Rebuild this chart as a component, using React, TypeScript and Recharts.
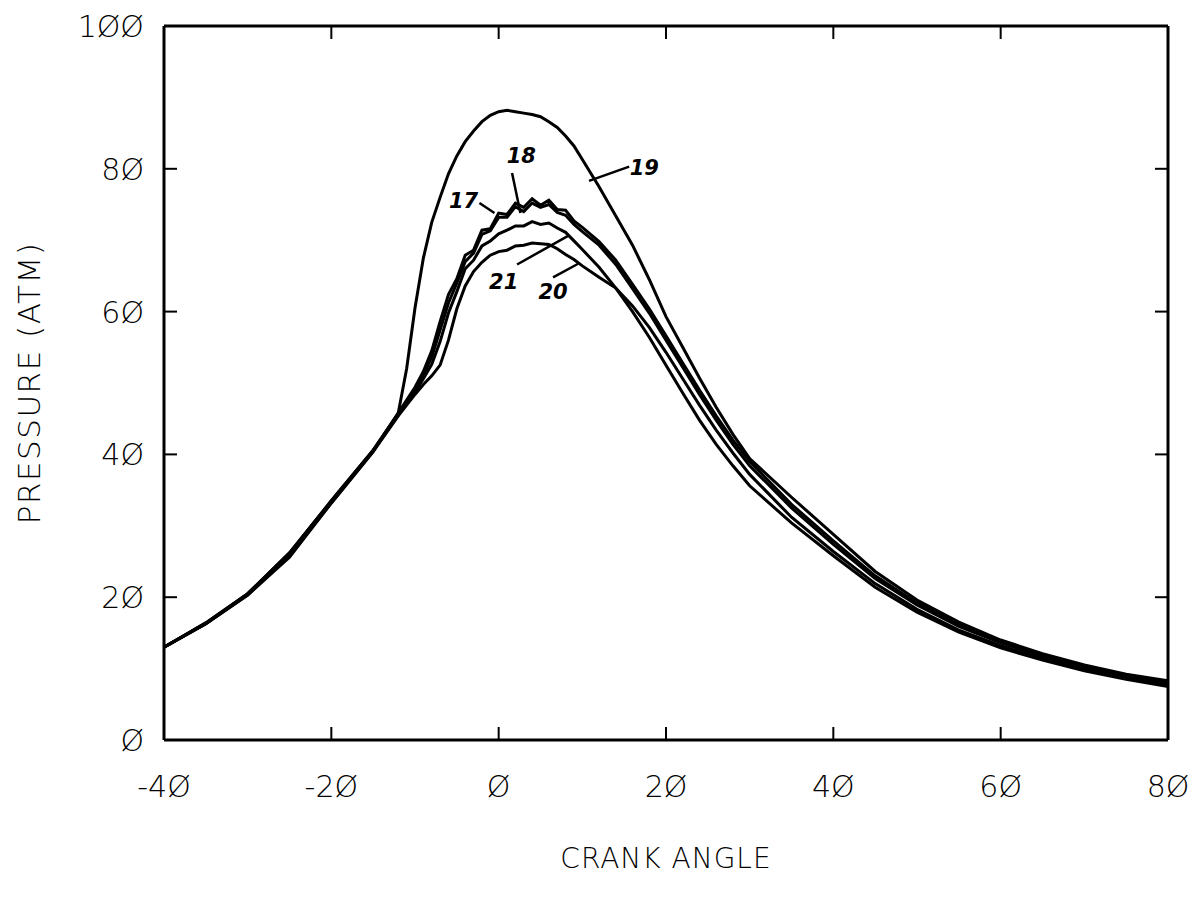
import React from 'react';
import { LineChart, Line, XAxis, YAxis, ReferenceLine, ReferenceDot } from 'recharts';

// crank angle (deg) and cylinder pressure (atm) for runs 17-21
const crankAngle = [-40, -35, -30, -25, -20, -15, -12, -11, -10, -9, -8, -7, -6, -5, -4, -3, -2, -1, 0, 1, 2, 3, 4, 5, 6, 7, 8, 9, 10, 12, 14, 16, 18, 20, 22, 24, 26, 28, 30, 35, 40, 45, 50, 55, 60, 65, 70, 75, 80];

const p17 = [13.0, 16.4, 20.5, 26.2, 33.5, 40.6,
  45.8, 47.6, 49.4, 51.6, 54.5, 58.6, 62.4, 64.6, 67.9, 68.6, 71.4, 71.6, 73.8, 73.6, 75.2, 74.6, 75.8, 74.9, 75.6, 74.3, 74.2, 72.7, 71.8,
  69.8, 67.2, 63.8, 60.4, 56.6, 52.8, 49.0, 45.4, 42.0, 39.0,
  33.0, 27.9, 23.0, 19.2, 16.2, 13.8, 11.9, 10.3, 9.1, 8.1];

const p18 = [13.0, 16.4, 20.5, 26.2, 33.5, 40.6,
  45.6, 47.3, 49.0, 51.1, 53.6, 57.4, 61.2, 64.0, 67.0, 68.2, 70.8, 71.3, 73.2, 73.2, 74.7, 74.0, 75.2, 74.6, 75.0, 73.9, 73.5, 72.2, 71.2,
  69.3, 66.6, 63.2, 59.8, 56.0, 52.2, 48.4, 44.8, 41.4, 38.4,
  32.5, 27.4, 22.6, 18.9, 15.9, 13.6, 11.7, 10.2, 9.0, 8.0];

const p19 = [13.0, 16.3, 20.3, 25.6, 33.2, 40.4,
  45.8, 52.0, 60.5, 67.5, 72.5, 76.0, 79.3, 81.8, 83.8, 85.3, 86.6, 87.5, 88.0, 88.2, 88.0, 87.8, 87.6, 87.3, 86.6, 85.8, 84.6, 83.2, 81.3,
  77.5, 73.4, 69.3, 64.5, 59.3, 55.0, 50.7, 46.6, 42.8, 39.4,
  34.0, 28.8, 23.6, 19.6, 16.5, 14.0, 12.1, 10.5, 9.2, 8.3];

const p20 = [13.0, 16.3, 20.3, 25.8, 33.2, 40.4,
  45.4, 46.9, 48.4, 49.8, 51.0, 52.5, 56.0, 60.4, 63.6, 65.6, 66.9, 67.9, 68.4, 68.6, 69.2, 69.3, 69.6, 69.5, 69.4, 68.8, 68.0, 67.3, 66.4,
  64.8, 63.3, 60.8, 57.8, 54.3, 50.6, 46.9, 43.4, 40.2, 37.2,
  31.2, 26.4, 21.9, 18.3, 15.4, 13.2, 11.4, 9.9, 8.7, 7.7];

const p21 = [13.0, 16.3, 20.4, 26.0, 33.3, 40.5,
  45.5, 47.1, 48.7, 50.6, 52.6, 55.8, 59.8, 62.8, 66.0, 67.2, 69.2, 69.9, 70.9, 71.4, 72.0, 72.0, 72.6, 72.2, 72.4, 71.7, 71.1, 69.9, 68.7,
  66.2, 63.3, 60.0, 56.4, 52.5, 48.6, 44.8, 41.4, 38.4, 35.6,
  30.4, 25.8, 21.4, 17.9, 15.1, 12.9, 11.2, 9.7, 8.5, 7.5];

const xTicks = [-40, -20, 0, 20, 40, 60, 80];
const yTicks = [0, 20, 40, 60, 80, 100];

// run numbers written next to the curves, with their leader lines
const runNames = ['17', '18', '19', '21', '20'];
const runLabelX = [-4.2, 2.7, 17.4, 0.6, 6.5];
const runLabelY = [75.5, 81.8, 80.1, 64.2, 62.7];
const leaderX1 = [-2.3, 1.6, 10.8, 2.2, 6.5];
const leaderY1 = [75.2, 79.4, 78.3, 66.6, 64.8];
const leaderX2 = [-0.5, 2.6, 15.6, 8.3, 9.5];
const leaderY2 = [73.8, 73.8, 80.3, 70.6, 66.7];

const rows = crankAngle.map((a, i) => ({
  angle: a,
  p17: p17[i],
  p18: p18[i],
  p19: p19[i],
  p20: p20[i],
  p21: p21[i],
}));

const series = ['p17', 'p18', 'p19', 'p20', 'p21'];

const X_MIN = xTicks[0];
const X_MAX = xTicks[xTicks.length - 1];
const Y_MIN = yTicks[0];
const Y_MAX = yTicks[yTicks.length - 1];
const innerX = xTicks.slice(1, -1);
const innerY = yTicks.slice(1, -1);

const FONT = '"DejaVu Sans", sans-serif';
const fmt = (v: number) => String(v).replace(/0/g, 'Ø');
const TICK = 13;

function BottomTick({ x, y, payload }: any) {
  return (
    <text x={x} y={y + 57} textAnchor="middle" fontFamily={FONT} fontWeight={200} fontSize={30} fill="#000">
      {fmt(payload.value)}
    </text>
  );
}

function LeftTick({ x, y, payload }: any) {
  return (
    <text x={x - 20} y={y + 11} textAnchor="end" fontFamily={FONT} fontWeight={200} fontSize={30} fill="#000">
      {fmt(payload.value)}
    </text>
  );
}

// inward tick marks on the four sides of the frame
const tickUp = ({ cx, cy }: any) => <line x1={cx} y1={cy} x2={cx} y2={cy - TICK} stroke="#000" strokeWidth={2} />;
const tickDown = ({ cx, cy }: any) => <line x1={cx} y1={cy} x2={cx} y2={cy + TICK} stroke="#000" strokeWidth={2} />;
const tickRight = ({ cx, cy }: any) => <line x1={cx} y1={cy} x2={cx + TICK} y2={cy} stroke="#000" strokeWidth={2} />;
const tickLeft = ({ cx, cy }: any) => <line x1={cx} y1={cy} x2={cx - TICK} y2={cy} stroke="#000" strokeWidth={2} />;

function XTitle({ viewBox }: any) {
  return (
    <text x={viewBox.x + viewBox.width / 2} y={viewBox.y + 128} textAnchor="middle" fontFamily={FONT} fontWeight={200} fontSize={28} fill="#000" letterSpacing={1}>
      CRANK ANGLE
    </text>
  );
}

function YTitle({ viewBox }: any) {
  const cx = viewBox.x + 29;
  const cy = viewBox.y + viewBox.height / 2;
  return (
    <text x={cx} y={cy} textAnchor="middle" dominantBaseline="central" transform={`rotate(-90 ${cx} ${cy})`} fontFamily={FONT} fontWeight={200} fontSize={31} fill="#000" letterSpacing={1.5}>
      PRESSURE (ATM)
    </text>
  );
}

function RunLabel(name: string) {
  return ({ cx, cy }: any) => (
    <text x={cx} y={cy} textAnchor="middle" dominantBaseline="central" fontFamily={FONT} fontWeight="bold" fontStyle="italic" fontSize={21} fill="#000">
      {name}
    </text>
  );
}

export default function App() {
  return (
    <div style={{ position: 'absolute', left: 0, top: 0, width: 1197, height: 903, background: '#fff' }}>
      <LineChart width={1197} height={903} data={rows} margin={{ top: 25, right: 28, bottom: 0, left: 0 }}>
        <XAxis
          xAxisId="b"
          dataKey="angle"
          type="number"
          domain={[X_MIN, X_MAX]}
          ticks={xTicks}
          interval={0}
          height={163}
          tickSize={0}
          tickMargin={0}
          tickLine={false}
          axisLine={{ stroke: '#000', strokeWidth: 3 }}
          tick={<BottomTick />}
          label={<XTitle />}
          allowDataOverflow
        />
        <XAxis
          xAxisId="t"
          orientation="top"
          dataKey="angle"
          type="number"
          domain={[X_MIN, X_MAX]}
          ticks={xTicks}
          height={1}
          tickLine={false}
          tick={false}
          axisLine={{ stroke: '#000', strokeWidth: 3 }}
        />
        <YAxis
          yAxisId="l"
          type="number"
          domain={[Y_MIN, Y_MAX]}
          ticks={yTicks}
          interval={0}
          width={164}
          tickSize={0}
          tickMargin={0}
          tickLine={false}
          axisLine={{ stroke: '#000', strokeWidth: 3 }}
          tick={<LeftTick />}
          label={<YTitle />}
        />
        <YAxis
          yAxisId="r"
          orientation="right"
          type="number"
          domain={[Y_MIN, Y_MAX]}
          ticks={yTicks}
          width={1}
          tickLine={false}
          tick={false}
          axisLine={{ stroke: '#000', strokeWidth: 3 }}
        />
        {innerX.map((v) => (
          <ReferenceDot key={'tb' + v} xAxisId="b" yAxisId="l" x={v} y={Y_MIN} r={1} shape={tickUp} />
        ))}
        {innerX.map((v) => (
          <ReferenceDot key={'tt' + v} xAxisId="b" yAxisId="l" x={v} y={Y_MAX} r={1} shape={tickDown} />
        ))}
        {innerY.map((v) => (
          <ReferenceDot key={'tl' + v} xAxisId="b" yAxisId="l" x={X_MIN} y={v} r={1} shape={tickRight} />
        ))}
        {innerY.map((v) => (
          <ReferenceDot key={'tr' + v} xAxisId="b" yAxisId="l" x={X_MAX} y={v} r={1} shape={tickLeft} />
        ))}
        {series.map((k) => (
          <Line
            key={k}
            xAxisId="b"
            yAxisId="l"
            type="linear"
            dataKey={k}
            stroke="#000"
            strokeWidth={3}
            dot={false}
            activeDot={false}
            isAnimationActive={false}
          />
        ))}
        {runNames.map((n, i) => (
          <ReferenceLine
            key={'ld' + n}
            xAxisId="b"
            yAxisId="l"
            segment={[{ x: leaderX1[i], y: leaderY1[i] }, { x: leaderX2[i], y: leaderY2[i] }]}
            stroke="#000"
            strokeWidth={2.5}
          />
        ))}
        {runNames.map((n, i) => (
          <ReferenceDot
            key={'lb' + n}
            xAxisId="b"
            yAxisId="l"
            x={runLabelX[i]}
            y={runLabelY[i]}
            r={1}
            shape={RunLabel(n)}
          />
        ))}
      </LineChart>
    </div>
  );
}
